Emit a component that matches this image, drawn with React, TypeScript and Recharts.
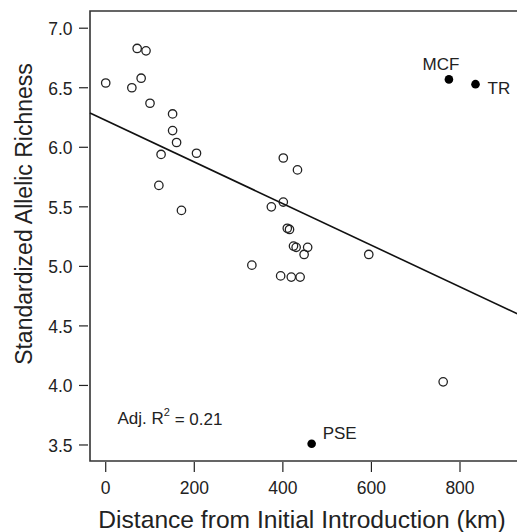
import React from 'react'
import {
  ScatterChart, Scatter, XAxis, YAxis, ReferenceLine, ReferenceArea, ReferenceDot, Label,
} from 'recharts'

// open circles: distance (km) vs standardized allelic richness
const openDistance = [0, 71, 91, 80, 59, 100, 151, 151, 160, 125, 205, 120, 171, 374, 401, 433, 401, 410, 415, 424, 430, 456, 448, 395, 419, 439, 594, 330, 762]
const openRichness = [6.54, 6.83, 6.81, 6.58, 6.50, 6.37, 6.28, 6.14, 6.04, 5.94, 5.95, 5.68, 5.47, 5.50, 5.91, 5.81, 5.54, 5.32, 5.31, 5.17, 5.16, 5.16, 5.10, 4.92, 4.91, 4.91, 5.10, 5.01, 4.03]

// filled (named) populations
const namedPops = ['MCF', 'TR', 'PSE']
const namedDistance = [775, 835, 465]
const namedRichness = [6.57, 6.53, 3.51]

const yTicks = [3.5, 4.0, 4.5, 5.0, 5.5, 6.0, 6.5, 7.0]
const xTicks = [0, 200, 400, 600, 800]

// linear fit
const fitIntercept = 6.226
const fitSlope = -0.001748
const adjR2 = '0.21'

const xDomain: [number, number] = [-35.5, 940]
const yDomain: [number, number] = [3.3655, 7.1445]

const FONT = '"Liberation Sans", Arial, Helvetica, sans-serif'
const INK = '#222'

const openData = openDistance.map((d, i) => ({ x: d, y: openRichness[i] }))
const namedData = namedPops.map((n, i) => ({ x: namedDistance[i], y: namedRichness[i], name: n }))

const labelOffsets: Record<string, { dx: number; dy: number; anchor: string }> = {
  MCF: { dx: -8, dy: -15, anchor: 'middle' },
  TR: { dx: 12, dy: 4, anchor: 'start' },
  PSE: { dx: 11, dy: -10, anchor: 'start' },
}

const YTick = (props: any) => {
  const { x, y, payload } = props
  return (
    <g>
      <line x1={x - 11} x2={x - 2} y1={y} y2={y} stroke={INK} strokeWidth={1.2} />
      <text x={x - 17.5} y={y + 1} textAnchor="end" dominantBaseline="central" fontSize={17.5} fill={INK} fontFamily={FONT}>
        {payload.value.toFixed(1)}
      </text>
    </g>
  )
}

const XTick = (props: any) => {
  const { x, y, payload } = props
  return (
    <g>
      <line x1={x} x2={x} y1={y + 1} y2={y + 11} stroke={INK} strokeWidth={1.2} />
      <text x={x} y={y + 27} textAnchor="middle" dominantBaseline="central" fontSize={17.5} fill={INK} fontFamily={FONT}>
        {payload.value}
      </text>
    </g>
  )
}

const OpenDot = (props: any) => (
  <circle cx={props.cx} cy={props.cy} r={4.2} fill="none" stroke={INK} strokeWidth={1.3} />
)

const FilledDot = (props: any) => {
  const off = labelOffsets[props.payload.name]
  return (
    <g>
      <circle cx={props.cx} cy={props.cy} r={4.3} fill="#000" />
      <text
        x={props.cx + off.dx}
        y={props.cy + off.dy}
        textAnchor={off.anchor}
        dominantBaseline="central"
        fontSize={17}
        fill={INK}
        fontFamily={FONT}
      >
        {props.payload.name}
      </text>
    </g>
  )
}

export default function App() {
  const fitLine = [
    { x: xDomain[0], y: fitIntercept + fitSlope * xDomain[0] },
    { x: xDomain[1], y: fitIntercept + fitSlope * xDomain[1] },
  ]

  return (
    <div style={{ position: 'absolute', left: 0, top: 0, width: 517, height: 532, overflow: 'hidden', background: '#fff' }}>
      <ScatterChart width={522} height={532} margin={{ top: 11, right: 0, bottom: 0, left: 0 }}>
        <XAxis
          type="number"
          dataKey="x"
          domain={xDomain}
          ticks={xTicks}
          allowDataOverflow
          axisLine={false}
          tickLine={false}
          tickSize={0}
          tickMargin={0}
          height={71}
          tick={<XTick />}
        >
          <Label
            content={() => (
              <text x={302} y={519} textAnchor="middle" dominantBaseline="central" fontSize={24.6} fill={INK} fontFamily={FONT}>
                Distance from Initial Introduction (km)
              </text>
            )}
          />
        </XAxis>
        <YAxis
          type="number"
          dataKey="y"
          domain={yDomain}
          ticks={yTicks}
          allowDataOverflow
          axisLine={false}
          tickLine={false}
          tickSize={0}
          tickMargin={0}
          width={90}
          tick={<YTick />}
        >
          <Label
            content={() => (
              <text x={24} y={214} transform="rotate(-90, 24, 214)" textAnchor="middle" dominantBaseline="central" fontSize={23} fill={INK} fontFamily={FONT}>
                Standardized Allelic Richness
              </text>
            )}
          />
        </YAxis>
        <ReferenceArea x1={xDomain[0]} x2={xDomain[1]} y1={yDomain[0]} y2={yDomain[1]} fill="none" stroke="#333" strokeWidth={1.6} ifOverflow="visible" />
        <ReferenceLine segment={fitLine} stroke="#111" strokeWidth={1.6} ifOverflow="visible" />
        <Scatter data={openData} shape={<OpenDot />} isAnimationActive={false} />
        <Scatter data={namedData} shape={<FilledDot />} isAnimationActive={false} />
        <ReferenceDot
          x={145}
          y={3.719}
          r={0}
          fill="none"
          stroke="none"
          label={(p: any) => {
            const cx = p.viewBox.x
            const cy = p.viewBox.y
            return (
              <text x={cx} y={cy} textAnchor="middle" dominantBaseline="central" fontSize={17} fill={INK} fontFamily={FONT}>
                Adj. R<tspan dy={-7} fontSize={11}>2</tspan><tspan dy={7}> = {adjR2}</tspan>
              </text>
            )
          }}
        />
      </ScatterChart>
    </div>
  )
}
